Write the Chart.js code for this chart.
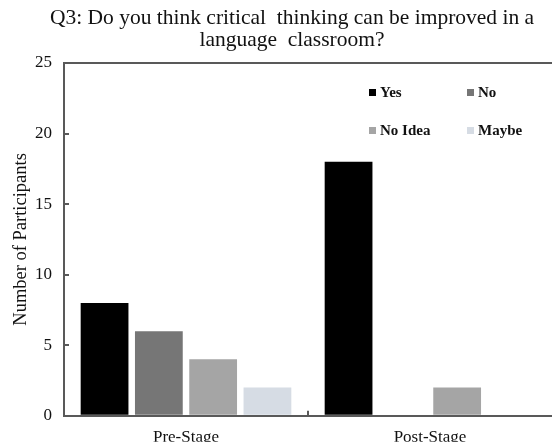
<!DOCTYPE html>
<html><head><meta charset="utf-8">
<script src="https://cdn.jsdelivr.net/npm/chart.js@4.4.0/dist/chart.umd.min.js"></script>
<style>
html,body{margin:0;padding:0;background:#fff;font-family:"Liberation Serif","Times New Roman",serif;}
#wrap{position:relative;width:552px;height:443px;overflow:hidden;background:#fff;}
#title{position:absolute;left:0;top:6px;width:584px;text-align:center;font-family:"Liberation Serif","Times New Roman",serif;font-size:21.5px;line-height:22px;color:#111;white-space:pre;}
canvas{position:absolute;left:0;top:0;}
.lg{position:absolute;font-family:"Liberation Serif","Times New Roman",serif;font-weight:bold;font-size:15px;line-height:16px;color:#111;white-space:nowrap;}
.lg span.sw{display:inline-block;width:7px;height:7px;margin-right:4px;vertical-align:1px;}
</style>
</head><body>
<div id="wrap">
<canvas id="c" width="552" height="443"></canvas>
<div id="title"></div>
</div>
<script>
const categories = ['Pre-Stage', 'Post-Stage'];
const seriesNames = ['Yes', 'No', 'No Idea', 'Maybe'];
const yesValues = [8, 18];
const noValues = [6, 0];
const noIdeaValues = [4, 2];
const maybeValues = [2, 0];
const seriesColors = ['#000000', '#767676', '#a5a5a5', '#d6dce4'];
const yTicks = [0, 5, 10, 15, 20, 25];
const titleLines = ['Q3: Do you think critical  thinking can be improved in a', 'language  classroom?'];
const yAxisTitle = 'Number of Participants';

document.getElementById('title').textContent = titleLines.join('\n');

const seriesValues = [yesValues, noValues, noIdeaValues, maybeValues];
const axisColor = '#595959';
const serif = 'Liberation Serif';

const datasets = seriesNames.map((name, i) => ({
  label: name,
  data: seriesValues[i],
  backgroundColor: seriesColors[i],
  borderWidth: 0,
  categoryPercentage: 0.89,
  barPercentage: 0.88
}));

const chart = new Chart(document.getElementById('c'), {
  type: 'bar',
  data: { labels: categories, datasets: datasets },
  options: {
    responsive: false,
    animation: false,
    devicePixelRatio: 1,
    layout: { padding: { top: 63, left: 0, right: 0, bottom: 0 } },
    plugins: { legend: { display: false }, title: { display: false }, tooltip: { enabled: false } },
    scales: {
      x: {
        grid: {
          offset: true,
          drawOnChartArea: false,
          drawTicks: true,
          tickLength: -5,
          lineWidth: 2,
          tickColor: ctx => ctx.index === 1 ? axisColor : 'rgba(0,0,0,0)'
        },
        border: { color: axisColor, width: 2 },
        ticks: { color: '#111', font: { family: serif, size: 17 }, padding: 17 },
        afterFit: s => { s.height = 26; }
      },
      y: {
        min: 0,
        max: 25,
        afterBuildTicks: s => { s.ticks = yTicks.map(v => ({ value: v })); },
        grid: {
          drawTicks: true,
          tickLength: -5,
          lineWidth: 2,
          color: ctx => (ctx.tick && ctx.tick.value === 25) ? axisColor : 'rgba(0,0,0,0)',
          tickColor: ctx => (ctx.tick && (ctx.tick.value === 0 || ctx.tick.value === 25)) ? 'rgba(0,0,0,0)' : axisColor
        },
        border: { color: axisColor, width: 2 },
        ticks: { color: '#111', font: { family: serif, size: 17 }, padding: 17 },
        title: { display: true, text: yAxisTitle, color: '#111', font: { family: serif, size: 18.5 }, padding: { top: 10, bottom: 0 } },
        afterFit: s => { s.width = 64; }
      }
    }
  }
});

// legend (2 x 2 inside the plot)
const legendCols = [369, 467];
const legendRows = [92, 130];
const wrap = document.getElementById('wrap');
seriesNames.forEach((name, i) => {
  const d = document.createElement('div');
  d.className = 'lg';
  d.style.left = legendCols[i % 2] + 'px';
  d.style.top = (legendRows[Math.floor(i / 2)] - 8) + 'px';
  const sw = document.createElement('span');
  sw.className = 'sw';
  sw.style.background = seriesColors[i];
  d.appendChild(sw);
  d.appendChild(document.createTextNode(name));
  wrap.appendChild(d);
});
</script>
</body></html>
